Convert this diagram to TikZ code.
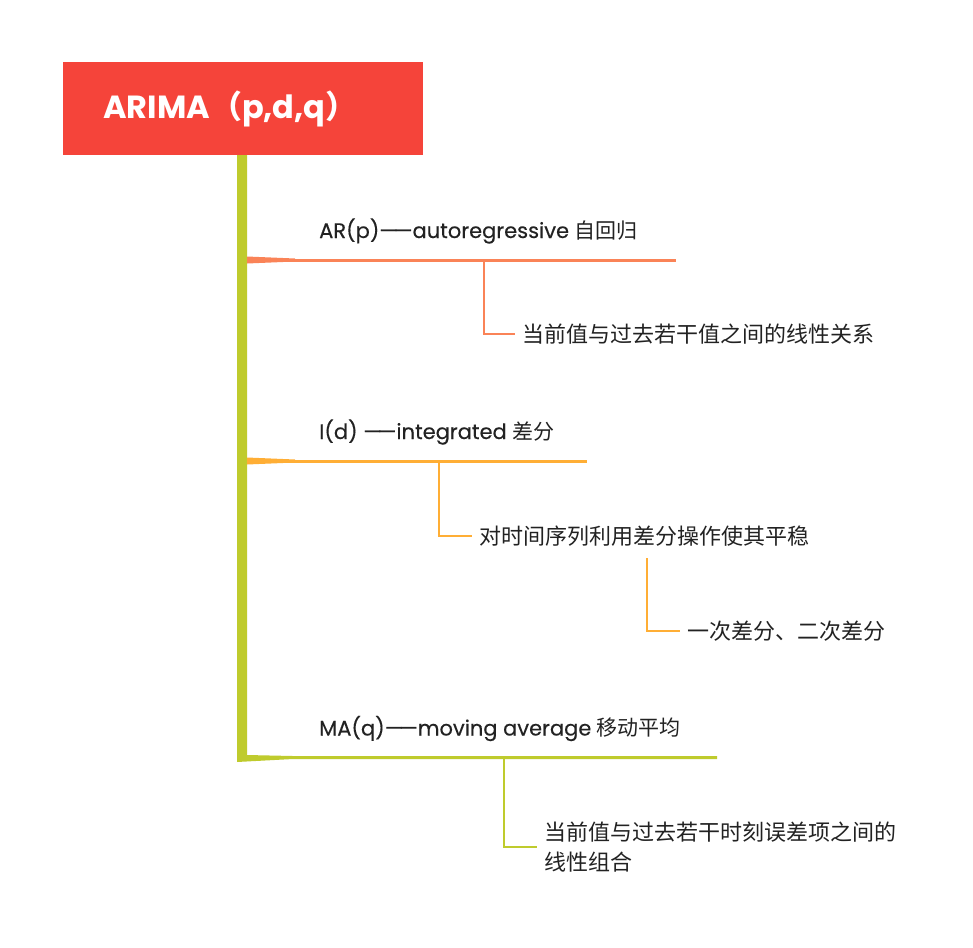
\documentclass[tikz,border=0pt]{standalone}
\usepackage{fontspec}
\setmainfont{Poppins}
\newfontfamily\cjk{Noto Sans CJK SC}
\newfontfamily\tagfont[FakeBold=0.3]{Poppins}
\usetikzlibrary{positioning, calc}
\definecolor{arimared}{HTML}{F5443A}
\definecolor{trunkgreen}{HTML}{BFCB2D}
\definecolor{arcoral}{HTML}{FA8357}
\definecolor{iorange}{HTML}{FFAE35}
\definecolor{inkgray}{HTML}{222222}
\newcommand{\dashdash}{—\kern-4pt—}

\begin{document}
\begin{tikzpicture}[x=1pt, y=-1pt,
    rootbox/.style={fill=arimared, text=white, font=\fontsize{32}{32}\selectfont\bfseries, text width=280pt, align=left, inner xsep=40pt, minimum height=93pt, anchor=north west},
    tag/.style={anchor=base west, text=inkgray, font=\fontsize{21}{21}\selectfont\tagfont, inner sep=0pt},
    desc/.style={anchor=west, text=inkgray, font=\fontsize{22}{30}\selectfont\cjk, inner xsep=7pt, inner ysep=0pt, align=left},
    branch/.style={line width=3pt},
    twig/.style={line width=2pt}]
    \useasboundingbox (0,0) rectangle (973,947);
    \node[rootbox] (root) at (63,62) {ARIMA{\cjk （}p,d,q{\cjk ）}};

    % branch points on the trunk
    \coordinate (ar-start) at (247,260);
    \coordinate (ar-end) at (676,260);
    \coordinate (ar-fork) at (484,260);
    \coordinate (i-start) at (247,461);
    \coordinate (i-end) at (587,461);
    \coordinate (i-fork) at (439,461);
    \coordinate (ma-start) at (247,757.5);
    \coordinate (ma-end) at (717,757.5);
    \coordinate (ma-fork) at (504,757.5);

    % trunk, running into the MA branch
    \fill[trunkgreen] (237,155) -- (247,155) -- (247,755) -- (293,756) -- ($(ma-end)+(0,-1.5)$) -- ++(0,3) -- (293,759) -- (237,762) -- cycle;
    \foreach \b/\c in {ar/arcoral, i/iorange} {
        \draw[branch, \c] (\b-start) -- (\b-end);
        \fill[\c] ($(\b-start)+(0,-3.5)$) -- ++(48,2) -- ++(0,3) -- ($(\b-start)+(0,3.5)$) -- cycle;
    }

    \node[tag] (ar-label) at ($(ar-start)+(72,-22)$) {AR(p)\dashdash autoregressive {\cjk 自回归}};
    \node[tag] (i-label) at ($(i-start)+(72,-22)$) {I(d) \dashdash integrated {\cjk 差分}};
    \node[tag] (ma-label) at ($(ma-start)+(72,-22)$) {MA(q)\dashdash moving average {\cjk 移动平均}};

    \node[desc] (ar-desc) at ($(ar-fork)+(31,74)$) {当前值与过去若干值之间的线性关系};
    \node[desc] (i-desc) at ($(i-fork)+(33,75)$) {对时间序列利用差分操作使其平稳};
    \coordinate (i-subfork) at ($(i-desc.west)+(175,22)$);
    \node[desc] (i-sub) at ($(i-subfork)+(33,73)$) {一次差分、二次差分};
    \node[desc] (ma-desc) at ($(ma-fork)+(33,89.5)$) {当前值与过去若干时刻误差项之间的\\线性组合};

    \draw[twig, arcoral] (ar-fork) |- (ar-desc.west);
    \draw[twig, iorange] (i-fork) |- (i-desc.west);
    \draw[twig, iorange] (i-subfork) |- (i-sub.west);
    \draw[twig, trunkgreen] (ma-fork) |- (ma-desc.west);
\end{tikzpicture}
\end{document}
